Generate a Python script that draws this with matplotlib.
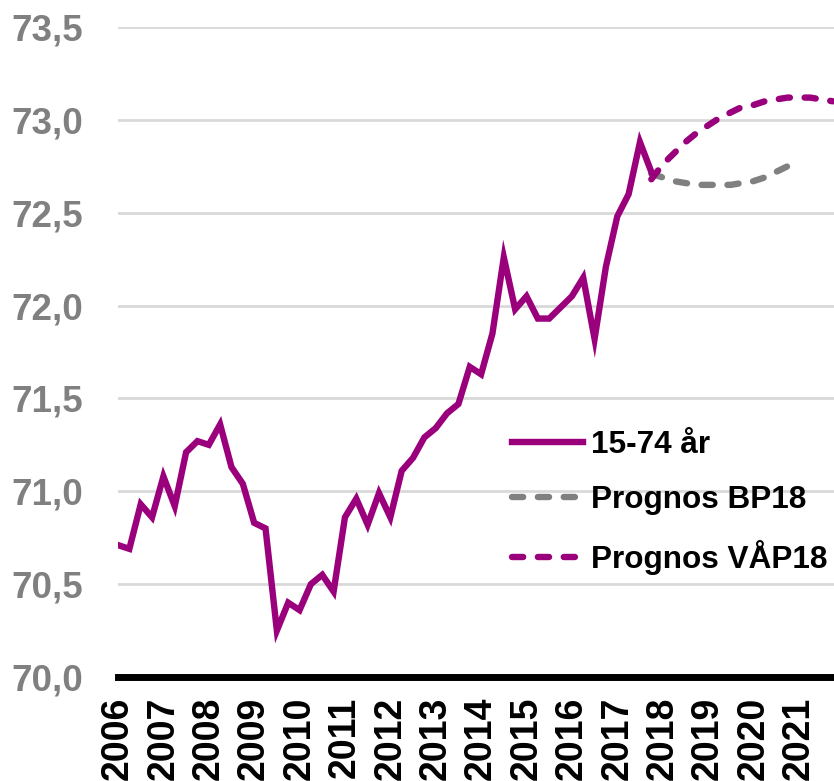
import matplotlib
matplotlib.use("Agg")
import matplotlib.pyplot as plt
import numpy as np

plt.rcParams['font.family'] = ['Liberation Sans', 'DejaVu Sans']
plt.rcParams['font.weight'] = 'bold'

# quarterly data, 2006 Q1 .. 2021 Q4
years = [str(y) for y in range(2006, 2022)]

utfall = [70.71, 70.69, 70.93, 70.86, 71.08, 70.92, 71.21, 71.27,
          71.25, 71.36, 71.13, 71.04, 70.83, 70.80, 70.25, 70.40,
          70.36, 70.50, 70.55, 70.46, 70.86, 70.96, 70.82, 70.99,
          70.86, 71.11, 71.18, 71.29, 71.34, 71.42, 71.47, 71.67,
          71.63, 71.85, 72.26, 71.98, 72.05, 71.93, 71.93, 71.99,
          72.05, 72.15, 71.82, 72.21, 72.48, 72.60, 72.88, 72.72]

# forecasts start at 2017 Q4
bp18 = [72.71, 72.69, 72.67, 72.66, 72.65, 72.65, 72.65, 72.65,
        72.66, 72.67, 72.69, 72.72, 72.75]

vap18 = [72.68, 72.76, 72.82, 72.88, 72.93, 72.97, 73.01, 73.04,
         73.07, 73.08, 73.10, 73.11, 73.12, 73.12, 73.12, 73.11, 73.10]

purple = '#9a007c'
grey = '#808080'

x_utfall = np.arange(len(utfall))
x_bp = np.arange(len(utfall) - 1, len(utfall) - 1 + len(bp18))
x_vap = np.arange(len(utfall) - 1, len(utfall) - 1 + len(vap18))

fig = plt.figure(figsize=(8.34, 7.81), dpi=100)
ax = fig.add_axes([0.1415, 0.1332, 0.8585, 0.8322])

ax.plot(x_utfall, utfall, color=purple, lw=4.6, solid_joinstyle='miter', label='15-74 år', zorder=4)
l1, = ax.plot(x_bp, bp18, color=grey, lw=4.6, dash_capstyle='round', label='Prognos BP18', zorder=3)
l1.set_dashes((1.75, 2.3))
l2, = ax.plot(x_vap, vap18, color=purple, lw=4.6, dash_capstyle='round', label='Prognos VÅP18', zorder=3)
l2.set_dashes((1.75, 2.3))

ax.set_xlim(0, 63.1)
ax.set_ylim(70, 73.5)
ax.set_yticks(np.arange(70, 73.51, 0.5))
ax.set_yticklabels([("%.1f" % v).replace('.', ',') for v in np.arange(70, 73.51, 0.5)],
                   color=grey, fontsize=26.5, fontweight='bold')
ax.set_xticks(np.arange(0, 64, 4))
ax.set_xticklabels(years, rotation=90, va='top', fontsize=27, fontweight='bold', color='black')
ax.tick_params(axis='y', length=0, pad=25)
ax.tick_params(axis='x', length=0, pad=14)

ax.grid(axis='y', color='#d9d9d9', lw=2)
ax.set_axisbelow(True)
for s in ['left', 'right', 'top']:
    ax.spines[s].set_visible(False)
ax.spines['bottom'].set_linewidth(5)
ax.spines['bottom'].set_color('black')
ax.spines['bottom'].set_zorder(5)

ax.legend(loc='upper left', bbox_to_anchor=(512 / 834, 1 - 430 / 781),
          bbox_transform=fig.transFigure, frameon=False,
          prop={'size': 22.7, 'weight': 'bold'}, handlelength=2.25, handletextpad=0.25,
          labelspacing=0.79, borderaxespad=0, borderpad=0)

fig.savefig('out.png', dpi=100)
